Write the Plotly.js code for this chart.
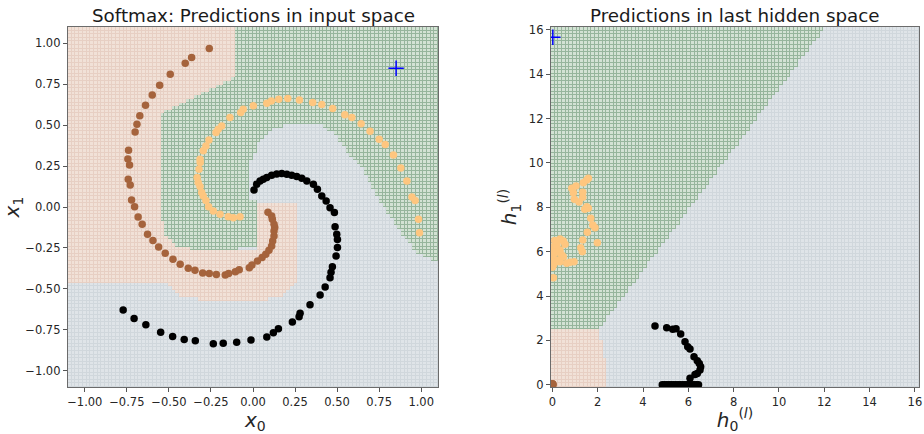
<!DOCTYPE html>
<html>
<head>
<meta charset="utf-8">
<script src="https://cdn.plot.ly/plotly-3.0.1.min.js"></script>
<style>html,body{margin:0;padding:0;background:#fff;}#chart{width:924px;height:434px;}</style>
</head>
<body>
<div id="chart"></div>
<script>
// ---------- Left panel: input space ----------
const brownX = [-0.260,-0.365,-0.403,-0.492,-0.555,-0.599,-0.639,-0.673,-0.690,-0.701,-0.740,-0.744,-0.734,-0.742,-0.730,-0.722,-0.704,-0.683,-0.659,-0.627,-0.595,-0.561,-0.522,-0.476,-0.433,-0.385,-0.345,-0.299,-0.260,-0.218,-0.165,-0.145,-0.105,-0.082,-0.022,-0.006,0.026,0.054,0.076,0.095,0.111,0.117,0.125,0.125,0.129,0.125,0.115,0.111,0.089];
const brownY = [0.969,0.914,0.879,0.812,0.744,0.685,0.622,0.557,0.506,0.459,0.347,0.294,0.257,0.169,0.135,0.043,0.002,-0.061,-0.106,-0.167,-0.204,-0.245,-0.283,-0.320,-0.350,-0.375,-0.387,-0.404,-0.407,-0.412,-0.416,-0.407,-0.395,-0.383,-0.371,-0.355,-0.330,-0.309,-0.289,-0.265,-0.239,-0.208,-0.177,-0.147,-0.126,-0.106,-0.075,-0.055,-0.032];
const yellowX = [-0.077,-0.117,-0.147,-0.196,-0.236,-0.264,-0.280,-0.296,-0.305,-0.315,-0.326,-0.332,-0.321,-0.314,-0.315,-0.296,-0.280,-0.262,-0.220,-0.207,-0.186,-0.137,-0.073,-0.058,0.002,0.082,0.109,0.153,0.207,0.276,0.355,0.409,0.474,0.546,0.588,0.643,0.696,0.750,0.786,0.835,0.879,0.915,0.945,0.964,0.984,0.990];
const yellowY = [-0.059,-0.065,-0.059,-0.045,-0.024,0.002,0.039,0.067,0.088,0.125,0.149,0.180,0.231,0.272,0.292,0.343,0.373,0.410,0.455,0.475,0.495,0.547,0.577,0.598,0.618,0.634,0.648,0.659,0.663,0.654,0.639,0.626,0.602,0.563,0.547,0.508,0.463,0.414,0.382,0.318,0.239,0.159,0.061,0.039,-0.075,-0.157];
const blackX = [0.006,0.022,0.042,0.061,0.082,0.111,0.141,0.171,0.201,0.230,0.260,0.290,0.320,0.359,0.383,0.409,0.435,0.458,0.484,0.488,0.498,0.502,0.502,0.494,0.472,0.464,0.458,0.429,0.399,0.339,0.280,0.274,0.234,0.151,0.121,0.082,-0.012,-0.097,-0.177,-0.236,-0.343,-0.409,-0.478,-0.549,-0.637,-0.707,-0.772];
const blackY = [0.104,0.139,0.159,0.169,0.180,0.194,0.202,0.204,0.200,0.194,0.186,0.176,0.159,0.139,0.108,0.067,0.037,-0.004,-0.034,-0.120,-0.167,-0.198,-0.248,-0.300,-0.365,-0.398,-0.432,-0.489,-0.538,-0.597,-0.650,-0.670,-0.703,-0.744,-0.768,-0.795,-0.813,-0.826,-0.832,-0.835,-0.817,-0.809,-0.791,-0.765,-0.719,-0.681,-0.630];
const testPointIn = [0.851, 0.848];

// decision regions (polygon vertices, data units)
const inOrangeX = [-1.2,-0.101,-0.101,-0.542,-0.542,-0.518,-0.464,-0.375,0.024,0.024,0.256,0.268,0.220,0.161,0.042,-0.315,-0.435,-0.524,-1.2];
const inOrangeY = [1.2,1.2,0.799,0.579,-0.075,-0.167,-0.228,-0.253,-0.253,0.029,0.029,-0.455,-0.503,-0.552,-0.565,-0.565,-0.540,-0.467,-0.455];
const inGreenX = [-0.101,1.2,1.2,1.054,0.976,0.893,0.815,0.738,0.655,0.577,0.488,0.399,0.220,0.101,0.030,-0.018,-0.018,0.024,0.024,-0.077,-0.375,-0.464,-0.518,-0.542,-0.542,-0.315,-0.101];
const inGreenY = [1.2,1.2,-0.338,-0.320,-0.277,-0.179,-0.057,0.065,0.231,0.310,0.445,0.500,0.512,0.475,0.383,0.261,0.047,0.029,-0.247,-0.253,-0.253,-0.228,-0.167,-0.075,0.579,0.689,0.799];

// ---------- Right panel: last hidden space ----------
const hYellowX = [0.856,1.045,0.926,0.970,1.178,1.341,1.367,1.517,1.588,1.341,1.429,1.517,1.588,1.694,1.782,1.884,1.544,1.341,1.985,1.253,1.323,0.044,0.194,0.340,0.485,0.560,0.340,0.194,0.415,0.635,0.781,0.957,0.044,0.044,0.044,0.340,0.485,0.265,0.0,0.0,0.0,0.0,0.1,0.2,0.1];
const hYellowY = [8.859,8.963,8.660,8.363,8.241,8.678,9.112,9.233,9.310,8.453,7.912,8.029,7.957,7.506,7.203,7.082,6.874,6.527,6.405,6.180,5.999,6.225,6.482,6.572,6.482,6.333,6.076,5.972,5.850,5.476,5.521,5.548,5.701,5.399,4.826,5.548,5.774,5.625,6.153,5.850,5.300,6.000,5.500,6.300,6.500];
const hBlackX = [4.530,5.046,5.311,5.457,5.664,5.854,5.973,6.074,6.251,6.396,6.484,6.546,6.515,6.396,6.295,6.074,4.85,4.95,5.05,5.15,5.25,5.35,5.45,5.55,5.65,5.75,5.85,5.95,6.05,6.15,6.25,6.35,6.45];
const hBlackY = [2.648,2.571,2.499,2.526,2.287,1.940,1.714,1.610,1.263,1.083,0.965,0.812,0.663,0.514,0.469,0.289,0,0,0,0,0,0,0,0,0,0,0,0,0,0,0,0,0];
const hBrownX = [0.0,0.02,0.03,0.01,0.0];
const hBrownY = [0.0,0.02,0.0,0.03,0.05];
const testPointHidden = [0.02, 15.67];

const hGreenX = [-1,2.0,12.3,-1];
const hGreenY = [2.45,2.45,16.5,16.5];
const hOrangeX = [-1,2.5,2.45,2.35,2.2,2.0,-1];
const hOrangeY = [-1,-1,-0.2,0.9,1.7,2.45,2.45];

const xTicksIn = [-1,-0.75,-0.5,-0.25,0,0.25,0.5,0.75,1];
const tickTextIn = ["−1.00","−0.75","−0.50","−0.25","0.00","0.25","0.50","0.75","1.00"];
const ticksHidden = [0,2,4,6,8,10,12,14,16];

// colours: class 0 grey, 1 orange, 2 green
const faceScale = [[0,'#dfe4e8'],[0.5,'#f1e1d7'],[1,'#d3e2d4']];
const lineScale = [[0,'#d0d7dc'],[0.5,'#e7cfc3'],[1,'#96b59c']];

function inside(px, py, xs, ys) {
  let c = false;
  for (let i = 0, j = xs.length - 1; i < xs.length; j = i++) {
    if (((ys[i] > py) !== (ys[j] > py)) &&
        (px < (xs[j] - xs[i]) * (py - ys[i]) / (ys[j] - ys[i]) + xs[i])) c = !c;
  }
  return c;
}
function labelGrid(x0, x1, y0, y1, n, regions) {
  const dx = (x1 - x0) / n, dy = (y1 - y0) / n;
  const xs = [], ys = [], z = [];
  for (let i = 0; i < n; i++) xs.push(x0 + (i + 0.5) * dx);
  for (let j = 0; j < n; j++) ys.push(y0 + (j + 0.5) * dy);
  for (let j = 0; j < n; j++) {
    const row = [];
    for (let i = 0; i < n; i++) {
      let v = 0;
      for (const r of regions) if (inside(xs[i], ys[j], r[0], r[1])) v = r[2];
      row.push(v);
    }
    z.push(row);
  }
  return {xs, ys, z};
}
const gIn = labelGrid(-1.1, 1.1, -1.1, 1.1, 100, [[inOrangeX, inOrangeY, 1], [inGreenX, inGreenY, 2]]);
const gH = labelGrid(-0.06, 16.18, -0.1, 16.13, 100, [[hOrangeX, hOrangeY, 1], [hGreenX, hGreenY, 2]]);

function bg(g, scale, gap, xa, ya) {
  return {type:'heatmap', x:g.xs, y:g.ys, z:g.z, zmin:0, zmax:2, colorscale:scale,
          showscale:false, hoverinfo:'skip', xgap:gap, ygap:gap, xaxis:xa, yaxis:ya};
}
function pts(x, y, color, xa, ya) {
  return {type:'scatter', mode:'markers', x:x, y:y, xaxis:xa, yaxis:ya,
          marker:{color:color, size:7.5}, hoverinfo:'skip', showlegend:false};
}
function plus(p, xa, ya) {
  return {type:'scatter', mode:'markers', x:[p[0]], y:[p[1]], xaxis:xa, yaxis:ya,
          marker:{symbol:'cross-thin', size:11, line:{color:'#0000ff', width:1.5}},
          hoverinfo:'skip', showlegend:false};
}

const brownC = '#a5633c', yellowC = '#fec67f', blackC = '#000000';

const data = [
  bg(gIn, lineScale, 0, 'x', 'y'),
  bg(gIn, faceScale, 1, 'x', 'y'),
  pts(brownX, brownY, brownC, 'x', 'y'),
  pts(yellowX, yellowY, yellowC, 'x', 'y'),
  pts(blackX, blackY, blackC, 'x', 'y'),
  plus(testPointIn, 'x', 'y'),
  bg(gH, lineScale, 0, 'x2', 'y2'),
  bg(gH, faceScale, 1, 'x2', 'y2'),
  pts(hYellowX, hYellowY, yellowC, 'x2', 'y2'),
  pts(hBlackX, hBlackY, blackC, 'x2', 'y2'),
  pts(hBrownX, hBrownY, brownC, 'x2', 'y2'),
  plus(testPointHidden, 'x2', 'y2')
];

const tickFont = {family:'DejaVu Sans', size:11.5, color:'#262626'};
const axBase = {showgrid:false, zeroline:false, showline:true, mirror:true, linecolor:'#6b6b6b', linewidth:1.2,
  ticks:'outside', ticklen:4, tickwidth:1, tickcolor:'#555', tickfont:tickFont, automargin:false};
const yTop = 1 - 27/434, yBot = 1 - 387/434;
const titleFont = {family:'DejaVu Sans', size:18.3, color:'#1a1a1a'};
const labFont = {family:'DejaVu Sans', size:20, color:'#262626'};

const layout = {
  width:924, height:434, margin:{l:0, r:0, t:0, b:0},
  paper_bgcolor:'#ffffff', plot_bgcolor:'#ffffff', showlegend:false,
  font:{family:'DejaVu Sans', color:'#262626'},
  xaxis: Object.assign({}, axBase, {domain:[68/924, 438/924], range:[-1.1, 1.1], tickvals:xTicksIn, ticktext:tickTextIn}),
  yaxis: Object.assign({}, axBase, {domain:[yBot, yTop], range:[-1.1, 1.1], tickvals:xTicksIn, ticktext:tickTextIn,
    title:{text:'<i>x</i><sub>1</sub>', font:labFont, standoff:6}}),
  xaxis2: Object.assign({}, axBase, {domain:[551/924, 919/924], range:[-0.06, 16.18], tickvals:ticksHidden, anchor:'y2',
    title:{text:'<i>h</i><sub>0</sub><sup>(<i>l</i>)</sup>', font:labFont, standoff:2}}),
  yaxis2: Object.assign({}, axBase, {domain:[yBot, yTop], range:[-0.1, 16.13], tickvals:ticksHidden, anchor:'x2',
    title:{text:'<i>h</i><sub>1</sub><sup>(<i>l</i>)</sup>', font:labFont, standoff:6}}),
  annotations:[
    {text:'Softmax: Predictions in input space', xref:'paper', yref:'paper', x:253/924, y:1-16/434,
     xanchor:'center', yanchor:'middle', showarrow:false, font:titleFont},
    {text:'Predictions in last hidden space', xref:'paper', yref:'paper', x:735/924, y:1-16/434,
     xanchor:'center', yanchor:'middle', showarrow:false, font:titleFont},
    {text:'<i>x</i><sub>0</sub>', xref:'paper', yref:'paper', x:255/924, y:1-406/434,
     xanchor:'center', yanchor:'top', showarrow:false, font:labFont}
  ]
};

Plotly.newPlot('chart', data, layout, {displayModeBar:false, staticPlot:true});
</script>
</body>
</html>
